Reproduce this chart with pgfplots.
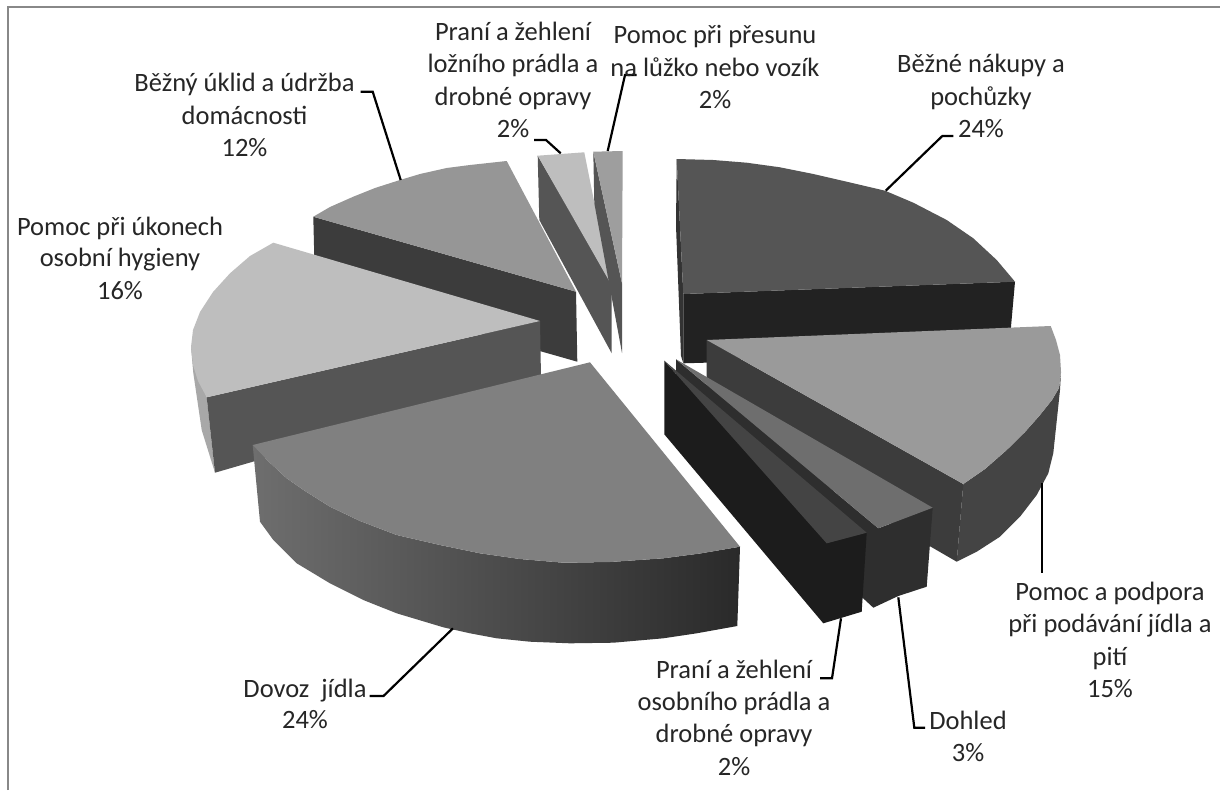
\documentclass[border=0pt]{standalone}
\usepackage{fontspec}
\setmainfont{Carlito}
\usepackage{pgfplots}
\pgfplotsset{compat=1.18}
\definecolor{t55}{HTML}{555555}
\definecolor{w22}{HTML}{222222}
\definecolor{s33}{HTML}{333333}
\definecolor{t9a}{HTML}{9A9A9A}
\definecolor{w3c}{HTML}{3C3C3C}
\definecolor{o44}{HTML}{444444}
\definecolor{t6e}{HTML}{6E6E6E}
\definecolor{w2e}{HTML}{2E2E2E}
\definecolor{w1c}{HTML}{1C1C1C}
\definecolor{t80}{HTML}{808080}
\definecolor{tbe}{HTML}{BEBEBE}
\definecolor{oa8}{HTML}{A8A8A8}
\definecolor{t96}{HTML}{969696}
\definecolor{t9e}{HTML}{9E9E9E}
\definecolor{frame}{HTML}{888888}
\definecolor{txt}{HTML}{262626}
\newcommand{\lab}[3]{\node[anchor=base,inner sep=0pt,text=txt,font=\fontsize{26.5}{30}\selectfont] at (axis cs:#1,#2) {#3};}
\pgfplotsset{
  face/.style={draw=none,fill=#1,mark=none,forget plot},
  leader/.style={black,line width=2.2pt,mark=none,forget plot,line join=miter}
}
\begin{document}
\begin{tikzpicture}
\begin{axis}[hide axis,scale only axis,width=1220pt,height=790pt,
  xmin=0,xmax=1220,ymin=0,ymax=790,y dir=reverse,clip=true]
% page
\addplot[face=white] coordinates {(0,0)(1220,0)(1220,790)(0,790)} -- cycle;
% frame
\addplot[frame,line width=2.5pt,mark=none,forget plot] coordinates {(8,790)(8,7)(1220,7)};
% Praní ložního
\addplot[face=t55] coordinates {(537.7,155.7)(611.7,283.3)(611.7,353.3)(539.3,220)} -- cycle;
\addplot[face=tbe] coordinates {(537.7,155.7)(584.3,152.3)(610.5,283.3)} -- cycle;
% Přesun
\addplot[face=t55] coordinates {(593.3,151.7)(622,283.3)(622,353)(594.3,203.3)} -- cycle;
\addplot[face=t9e] coordinates {(593.3,151.7)(622.7,151)(622,283.3)} -- cycle;
% Běžné nákupy
\addplot[face=s33] coordinates {(676.7,159)(683.3,294)(683.3,363)(681,356)(676,226)} -- cycle;
\addplot[face=w22] coordinates {(683.3,294)(1015,281.7)(1010.7,330)(705,362.7)(683.3,363.3)} -- cycle;
\addplot[face=t55] coordinates {(676.7,159)(713.3,160)(746.7,162.7)(780,167.3)(813.3,174)(846.7,181.7)(885,190.7)(913.3,202.7)(946.7,220)(973.3,238.3)(996.7,260)(1015,281.7)(683.3,294)} -- cycle;
% Běžný úklid
\addplot[face=w3c] coordinates {(313.3,216.7)(576,291.7)(577.3,361.7)(315,287)} -- cycle;
\addplot[face=t96] coordinates {(506.7,161)(470,165)(446.7,168)(420,174)(400,180)(375,188)(353.3,196.7)(330,207)(313.3,216.7)(576,291.7)} -- cycle;
% Hygiena
\addplot[face=oa8] coordinates {(191,347)(206.7,397.3)(215,472.7)(201.7,430)(193.3,373)} -- cycle;
\addplot[face=t55] coordinates {(206.7,397.3)(540,321)(541,378)(215,472.7)} -- cycle;
\addplot[face=tbe] coordinates {(273.3,242.7)(250,256)(230,273.3)(213,292)(200,312)(193,330)(191,347)(193,365)(198,381)(206.7,397.3)(540,321)} -- cycle;
% Pomoc a podpora
\addplot[face=o44] coordinates {(1061,372)(1059,388)(1052,400)(1040,415)(1025,432)(1006.7,450)(985,469)(963.3,484)(956.7,561.7)(976.7,551.7)(1000,536.7)(1020,516.7)(1036.7,495)(1048.3,473.3)(1053.3,453)(1060,390)} -- cycle;
\addplot[face=w3c] coordinates {(706.7,340)(963.3,484)(956.7,561.7)(706.7,417)} -- cycle;
\addplot[face=t9a] coordinates {(706.7,340)(1050.7,326)(1056,340)(1060,355)(1061,372)(1059,388)(1052,400)(1040,415)(1025,432)(1006.7,450)(985,469)(963.3,484)} -- cycle;
% Dohled
\addplot[face=w2e] coordinates {(676,359.3)(878.3,528.3)(932.7,507.7)(926.7,586.7)(898.3,596)(873.3,607.7)(865,600)(676,433)} -- cycle;
\addplot[face=t6e] coordinates {(676,359.3)(932.7,507.7)(878.3,528.3)} -- cycle;
% Praní osobního
\addplot[face=w1c] coordinates {(664.3,360.7)(826.7,543.3)(866.7,532.7)(861.7,611.7)(823.3,623.3)(664.3,434.3)} -- cycle;
\addplot[face=o44] coordinates {(664.3,360.7)(866.7,532.7)(826.7,543.3)} -- cycle;
% Dovoz
\addplot[draw=none,left color=t6e,right color=w22!70!w3c,mark=none,forget plot] coordinates {(252.7,445)(268,461)(286.7,478.3)(305,491)(330,506.7)(360,521)(396.7,535)(440,545)(480,553.3)(520,559)(563.3,562.7)(610,562)(663.3,558.3)(700,553.5)(740,546.7)(737.3,626)(696.7,633.3)(663.3,638.3)(613.3,642.7)(570,643.3)(530,641.7)(496.7,638.3)(470,633.3)(443.3,627.3)(396.7,613.3)(363.3,600)(330,583.3)(296.7,563.3)(273.3,540)(260,521.7)} -- cycle;
\addplot[face=t80] coordinates {(590,362.3)(740,546.7)(700,553.5)(663.3,558.3)(610,562)(563.3,562.7)(520,559)(480,553.3)(440,545)(396.7,535)(360,521)(330,506.7)(305,491)(286.7,478.3)(268,461)(252.7,445)} -- cycle;
% leaders
\addplot[leader] coordinates {(360.7,91.7)(372.7,91.7)(400.7,180)};
\addplot[leader] coordinates {(534,140)(546,140)(560.7,153.3)};
\addplot[leader] coordinates {(636.7,75)(625,75)(607.7,151)};
\addplot[leader] coordinates {(953.3,136)(942.3,136)(885.7,190.7)};
\addplot[leader] coordinates {(1042.3,483.3)(1042.3,573.3)};
\addplot[leader] coordinates {(898.3,597.3)(914.3,727.7)(925,727.7)};
\addplot[leader] coordinates {(841,618.3)(832,678.3)(820,678.3)};
\addplot[leader] coordinates {(453,628.3)(383.5,696)(369.5,696)};
% labels
\lab{981}{72}{Běžné nákupy a}
\lab{981}{105}{pochůzky}
\lab{981}{137.7}{24\%}
\lab{1110}{600}{Pomoc a podpora}
\lab{1110}{632.3}{při podávání jídla a}
\lab{1110}{665}{pití}
\lab{1110}{697}{15\%}
\lab{968}{729}{Dohled}
\lab{968}{761}{3\%}
\lab{734}{678}{Praní a žehlení}
\lab{734}{710}{osobního prádla a}
\lab{734}{742.5}{drobné opravy}
\lab{734}{775}{2\%}
\lab{305}{697}{Dovoz\ \ jídla}
\lab{305}{728}{24\%}
\lab{120}{235}{Pomoc při úkonech}
\lab{120}{266.7}{osobní hygieny}
\lab{120}{299}{16\%}
\lab{244.5}{91.7}{Běžný úklid a údržba}
\lab{244.5}{124}{domácnosti}
\lab{244.5}{156.7}{12\%}
\lab{513}{40.7}{Praní a žehlení}
\lab{513}{72.7}{ložního prádla a}
\lab{513}{105}{drobné opravy}
\lab{513}{137}{2\%}
\lab{715}{43}{Pomoc při přesunu}
\lab{715}{76}{na lůžko nebo vozík}
\lab{715}{108}{2\%}
\end{axis}
\end{tikzpicture}
\end{document}
